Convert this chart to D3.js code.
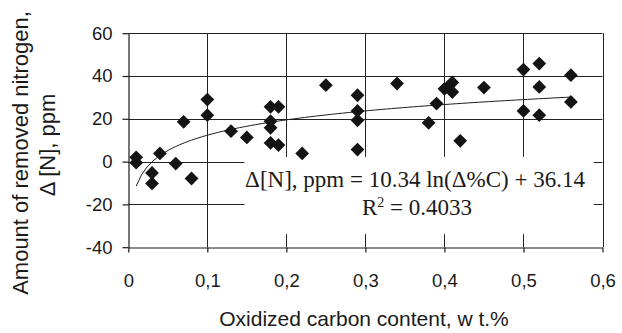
<!DOCTYPE html>
<html>
<head>
<meta charset="utf-8">
<script src="https://cdn.jsdelivr.net/npm/d3@7"></script>
<style>
  body { margin: 0; background: #fff; }
  svg { display: block; }
  .tick text { font-family: "Liberation Sans", Arial, sans-serif; fill: #1a1a1a; }
</style>
</head>
<body>
<div class="chart"></div>
<script>
// Measured points: oxidized carbon (wt.%) vs removed nitrogen (ppm)
const carbonContent = [
    0.01, 0.01, 0.03, 0.03, 0.04, 0.06, 0.08, 0.07, 0.10, 0.10,
    0.13, 0.15, 0.18, 0.19, 0.18, 0.18, 0.18, 0.19, 0.22, 0.25,
    0.29, 0.29, 0.29, 0.29, 0.34, 0.38, 0.39, 0.40, 0.405, 0.41,
    0.41, 0.42, 0.45, 0.50, 0.50, 0.52, 0.52, 0.52, 0.56, 0.56
];
const removedNitrogen = [
    2.0, -0.5, -5.3, -10.2, 3.8, -0.9, -7.9, 18.6, 29.0, 21.7,
    14.2, 11.3, 25.6, 25.6, 18.9, 15.8, 8.7, 7.7, 3.8, 35.7,
    31.0, 23.7, 19.3, 5.6, 36.5, 18.1, 27.1, 34.0, 35.0, 37.0,
    32.5, 9.7, 34.6, 43.0, 23.7, 45.8, 34.9, 21.7, 40.4, 27.9
];

// Logarithmic trendline printed on the chart: y = a ln(x) + b
const trendCoef = [10.34, 36.14];
const trendRange = [0.01, 0.56];

const xTicks = [0, 0.1, 0.2, 0.3, 0.4, 0.5, 0.6];
const yTicks = [-40, -20, 0, 20, 40, 60];

const equationText = ['\u0394[N], ppm = 10.34 ln(\u0394%C) + 36.14', 'R', '2', ' = 0.4033'];
const xTitle = 'Oxidized carbon content, w t.%';
const yTitle = ['Amount of removed nitrogen,', '\u0394 [N], ppm'];

class ScatterChart {
    constructor() {
        this.width = 622;
        this.height = 333;
        this.plot = {left: 128.3, right: 602.5, top: 33.2, bottom: 247.2};
    }

    render() {
        let svg = d3.select('.chart').append('svg')
            .attr('width', this.width)
            .attr('height', this.height);

        let xScale = d3.scaleLinear()
            .domain([0, 0.6])
            .range([this.plot.left, this.plot.right]);

        let yScale = d3.scaleLinear()
            .domain([-40, 60])
            .range([this.plot.bottom, this.plot.top]);

        // Grid lines
        let grid = svg.append('g').attr('stroke', '#222').attr('stroke-width', 1);
        grid.selectAll('.hgrid')
            .data(yTicks.filter(d => d > -40))
            .enter().append('line')
            .attr('x1', this.plot.left).attr('x2', this.plot.right)
            .attr('y1', d => Math.round(yScale(d)) + 0.5)
            .attr('y2', d => Math.round(yScale(d)) + 0.5);
        grid.selectAll('.vgrid')
            .data(xTicks.filter(d => d > 0))
            .enter().append('line')
            .attr('y1', this.plot.top).attr('y2', this.plot.bottom)
            .attr('x1', d => Math.round(xScale(d)) + 0.5)
            .attr('x2', d => Math.round(xScale(d)) + 0.5);

        // White box behind the trendline label
        svg.append('rect')
            .attr('x', xScale(0.147))
            .attr('y', yScale(2.2))
            .attr('width', xScale(0.589) - xScale(0.147))
            .attr('height', yScale(-33.9) - yScale(2.2))
            .attr('fill', '#fff');

        // Axes
        let yAxis = d3.axisLeft(yScale)
            .tickValues(yTicks)
            .tickFormat(d => String(d))
            .tickSize(6)
            .tickSizeOuter(0)
            .tickPadding(10);
        let yAxisG = svg.append('g')
            .attr('transform', 'translate(' + (Math.round(this.plot.left) + 0.5) + ',0)')
            .call(yAxis);
        yAxisG.selectAll('text').style('font-size', '18.5px');

        let xAxis = d3.axisBottom(xScale)
            .tickValues(xTicks)
            .tickFormat(d => d === 0 ? '0' : d3.format('.1f')(d).replace('.', ','))
            .tickSize(5)
            .tickSizeOuter(0)
            .tickPadding(21);
        let xAxisG = svg.append('g')
            .attr('transform', 'translate(0,' + (Math.round(this.plot.bottom) + 0.5) + ')')
            .call(xAxis);
        xAxisG.selectAll('text').style('font-size', '18.5px');

        svg.selectAll('.domain, .tick line').attr('stroke', '#1a1a1a').attr('stroke-width', 1.2);

        // Trendline
        let trendX = d3.range(0, 81).map(i => trendRange[0] + (trendRange[1] - trendRange[0]) * i / 80);
        let line = d3.line()
            .x(d => xScale(d))
            .y(d => yScale(trendCoef[0] * Math.log(d) + trendCoef[1]));
        svg.append('path')
            .datum(trendX)
            .attr('d', line)
            .attr('fill', 'none')
            .attr('stroke', '#1e1e1e')
            .attr('stroke-width', 1);

        // Diamond markers
        let diamond = d3.symbol().type(d3.symbolSquare).size(95);
        svg.selectAll('.point')
            .data(carbonContent.map((c, i) => [c, removedNitrogen[i]]))
            .enter().append('path')
            .attr('d', diamond)
            .attr('transform', d => 'translate(' + xScale(d[0]) + ',' + yScale(d[1]) + ') rotate(45)')
            .attr('fill', '#141414');

        // Equation label
        let eq = svg.append('text')
            .attr('font-family', '"Liberation Serif", "Times New Roman", serif')
            .attr('font-size', '23px')
            .attr('fill', '#1a1a1a')
            .attr('text-anchor', 'middle');
        eq.append('tspan')
            .attr('x', 415).attr('y', 187)
            .text(equationText[0]);
        let r2 = eq.append('tspan').attr('x', 417).attr('y', 215);
        r2.append('tspan').text(equationText[1]);
        r2.append('tspan').attr('dy', -8).attr('font-size', '14px').text(equationText[2]);
        r2.append('tspan').attr('dy', 8).text(equationText[3]);

        // Axis titles
        svg.append('text')
            .attr('x', 364).attr('y', 326)
            .attr('text-anchor', 'middle')
            .attr('font-family', '"Liberation Sans", Arial, sans-serif')
            .attr('font-size', '21px')
            .attr('fill', '#1a1a1a')
            .text(xTitle);

        svg.selectAll('.ytitle')
            .data(yTitle)
            .enter().append('text')
            .attr('transform', (d, i) => 'translate(' + (i === 0 ? 28 : 55) + ',' + (i === 0 ? 153 : 145) + ') rotate(-90)')
            .attr('text-anchor', 'middle')
            .attr('font-family', '"Liberation Sans", Arial, sans-serif')
            .attr('font-size', '22px')
            .attr('fill', '#1a1a1a')
            .text(d => d);
    }
}

new ScatterChart().render();
</script>
</body>
</html>
